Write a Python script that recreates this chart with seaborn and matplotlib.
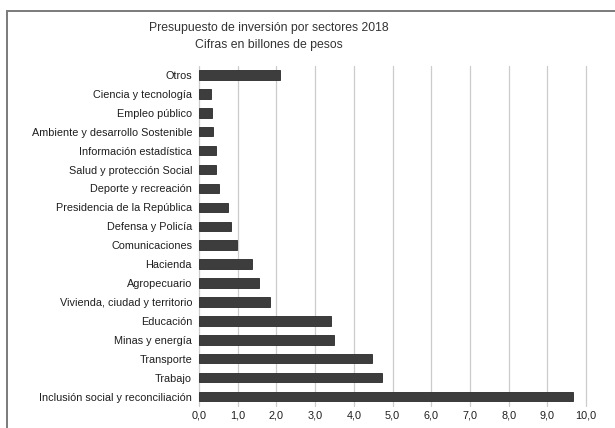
import matplotlib
matplotlib.use("Agg")
import matplotlib.pyplot as plt
import matplotlib.ticker as mticker
from matplotlib.patches import Rectangle
import seaborn as sns
import pandas as pd

sectores = [
    "Otros",
    "Ciencia y tecnología",
    "Empleo público",
    "Ambiente y desarrollo Sostenible",
    "Información estadística",
    "Salud y protección Social",
    "Deporte y recreación",
    "Presidencia de la República",
    "Defensa y Policía",
    "Comunicaciones",
    "Hacienda",
    "Agropecuario",
    "Vivienda, ciudad y territorio",
    "Educación",
    "Minas y energía",
    "Transporte",
    "Trabajo",
    "Inclusión social y reconciliación",
]
billones = [2.09, 0.30, 0.34, 0.35, 0.44, 0.45, 0.52, 0.76, 0.82, 0.97,
            1.36, 1.55, 1.83, 3.41, 3.48, 4.46, 4.74, 9.67]
x_ticks = [0, 1, 2, 3, 4, 5, 6, 7, 8, 9, 10]

df = pd.DataFrame({"sector": sectores, "valor": billones})

sns.set_theme(style="white")
plt.rcParams["font.family"] = ["Liberation Sans", "DejaVu Sans"]

W, H = 615, 428
fig = plt.figure(figsize=(W / 100, H / 100), dpi=100)
fig.patch.set_facecolor("white")

ax = fig.add_axes([199 / W, 1 - 406 / H, (586 - 199) / W, (406 - 65.5) / H])
sns.barplot(data=df, x="valor", y="sector", orient="h", color="#3d3d3d",
            saturation=1, width=0.5, edgecolor="#2a2a2a", linewidth=0.6, ax=ax)

ax.set_xlim(0, 10)
ax.set_xticks(x_ticks)
ax.xaxis.set_major_formatter(mticker.FuncFormatter(lambda v, p: f"{v:.1f}".replace(".", ",")))
ax.grid(axis="x", color="#cccccc", linewidth=0.9)
ax.grid(axis="y", visible=False)
for gl in ax.get_xgridlines():
    gl.set_clip_on(False)
ax.set_axisbelow(True)
for s in ax.spines.values():
    s.set_visible(False)
ax.tick_params(axis="both", length=0, labelsize=7.8, colors="#1e1e1e")
ax.tick_params(axis="y", pad=5)
ax.tick_params(axis="x", pad=3)
ax.set_xlabel("")
ax.set_ylabel("")

fig.text(269 / W, 1 - 28 / H, "Presupuesto de inversión por sectores 2018",
         ha="center", va="center", fontsize=8.8, color="#333333")
fig.text(269 / W, 1 - 45 / H, "Cifras en billones de pesos",
         ha="center", va="center", fontsize=8.8, color="#333333")

# outer frame around the chart
fig.add_artist(Rectangle((7 / W, -0.2), 1.2, 1.2 - 11 / H, transform=fig.transFigure,
                         fill=False, edgecolor="#7a7a7a", linewidth=1.4))

fig.savefig("out.png", dpi=100, facecolor="white")
